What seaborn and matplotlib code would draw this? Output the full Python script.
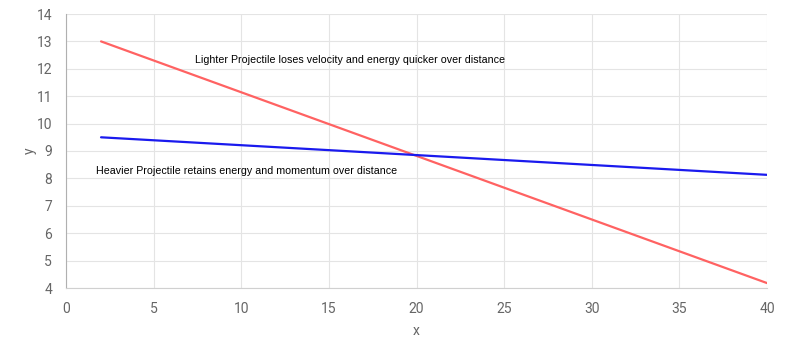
import matplotlib
matplotlib.use("Agg")
import matplotlib.pyplot as plt
import seaborn as sns
import pandas as pd

# Projectile trajectories (distance vs value)
distance = [2, 40]
lighter = [13.0, 4.18]
heavier = [9.5, 8.13]

x_ticks = [0, 5, 10, 15, 20, 25, 30, 35, 40]
y_ticks = [4, 5, 6, 7, 8, 9, 10, 11, 12, 13, 14]

df = pd.DataFrame({
    "x": distance * 2,
    "y": lighter + heavier,
    "series": ["Lighter"] * len(distance) + ["Heavier"] * len(distance),
})

sns.set_style("white")
plt.rcParams["font.family"] = ["Liberation Sans", "DejaVu Sans"]

fig = plt.figure(figsize=(7.98, 3.47), dpi=100)
ax = fig.add_axes([66 / 798, 1 - 288 / 347, (767 - 66) / 798, (288 - 14) / 347])

sns.lineplot(data=df, x="x", y="y", hue="series",
             palette={"Lighter": "#ff6262", "Heavier": "#1a1aee"},
             linewidth=1.6, legend=False, ax=ax, zorder=3)

ax.set_xlim(0, 40)
ax.set_ylim(4, 14)
ax.set_xticks(x_ticks)
ax.set_yticks(y_ticks)
ax.grid(True, color="#e4e4e4", linewidth=0.8)
ax.set_axisbelow(True)
for side in ["top", "right"]:
    ax.spines[side].set_visible(False)
ax.spines["left"].set_color("#b0b0b0")
ax.spines["bottom"].set_color("#d0d0d0")
ax.tick_params(axis="both", length=7, width=0.8, color="#e4e4e4",
               labelcolor="#666666", labelsize=10, pad=3)
for lbl in ax.get_xticklabels() + ax.get_yticklabels():
    lbl.set_family(["Roboto", "DejaVu Sans"])

ax.set_xlabel("x", color="#666666", fontsize=10, labelpad=6, family=["Roboto", "DejaVu Sans"])
ax.set_ylabel("y", color="#666666", fontsize=10, labelpad=0, family=["Roboto", "DejaVu Sans"])

ax.text(7.35, 12.32, "Lighter Projectile loses velocity and energy quicker over distance",
        fontsize=7.7, color="black", va="center", ha="left")
ax.text(1.7, 8.27, "Heavier Projectile retains energy and momentum over distance",
        fontsize=7.7, color="black", va="center", ha="left")

fig.savefig("out.png", dpi=100)
